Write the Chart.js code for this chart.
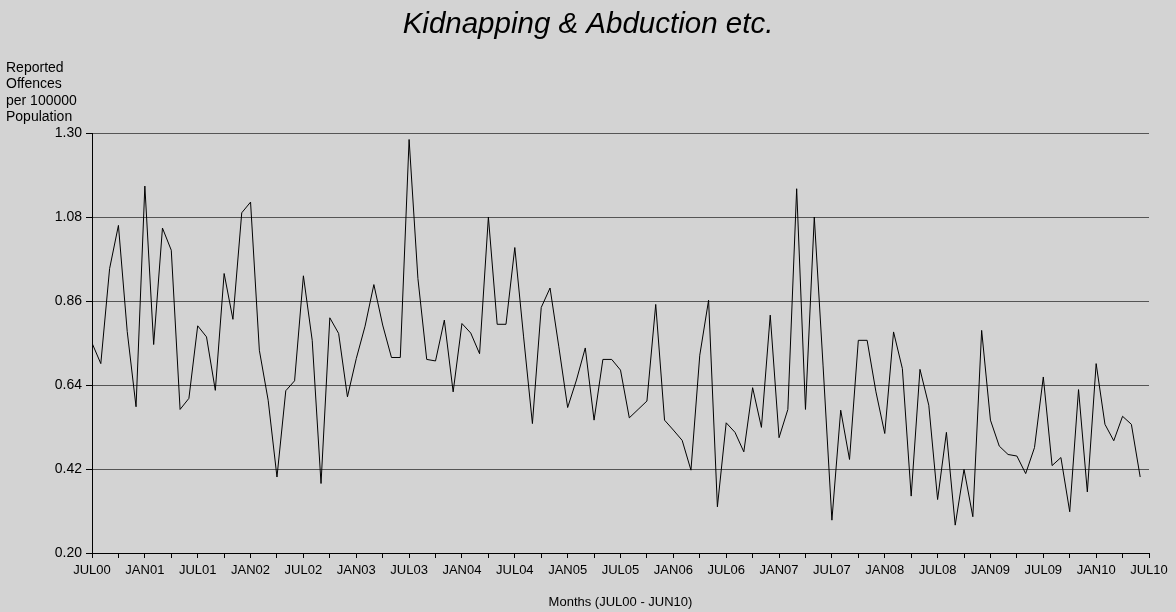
<!DOCTYPE html>
<html>
<head>
<meta charset="utf-8">
<script src="https://cdn.jsdelivr.net/npm/chart.js@4/dist/chart.umd.min.js"></script>
<style>
    html, body { margin: 0; padding: 0; background: #d3d3d3; }
    #wrap { width: 1176px; height: 612px; position: relative; }
</style>
</head>
<body>
<div id="wrap"><canvas id="grafico" width="1176" height="612"></canvas></div>
<script>
// Titulo y etiquetas
const chartTitle = 'Kidnapping & Abduction etc.';
const yTitleLines = ['Reported', 'Offences', 'per 100000', 'Population'];
const xTitle = 'Months (JUL00 - JUN10)';

// Etiquetas del eje X (cada 6 meses)
const tickLabels = ['JUL00', 'JAN01', 'JUL01', 'JAN02', 'JUL02', 'JAN03', 'JUL03', 'JAN04', 'JUL04', 'JAN05',
    'JUL05', 'JAN06', 'JUL06', 'JAN07', 'JUL07', 'JAN08', 'JUL08', 'JAN09', 'JUL09', 'JAN10', 'JUL10'];

// Marcas del eje Y
const yTicks = [0.20, 0.42, 0.64, 0.86, 1.08, 1.30];

// Valores mensuales JUL00 - JUN10
const valores2000 = [0.750, 0.696, 0.945, 1.058, 0.780, 0.583];
const valores2001 = [1.161, 0.746, 1.051, 0.993, 0.576, 0.605, 0.795, 0.766, 0.626, 0.932, 0.812, 1.091];
const valores2002 = [1.119, 0.731, 0.600, 0.399, 0.625, 0.651, 0.926, 0.757, 0.382, 0.816, 0.775, 0.609];
const valores2003 = [0.709, 0.794, 0.903, 0.797, 0.712, 0.712, 1.283, 0.919, 0.707, 0.703, 0.810, 0.622];
const valores2004 = [0.801, 0.776, 0.722, 1.080, 0.799, 0.799, 1.000, 0.766, 0.539, 0.843, 0.894, 0.740];
const valores2005 = [0.581, 0.653, 0.737, 0.548, 0.707, 0.707, 0.679, 0.554, 0.576, 0.598, 0.851, 0.548];
const valores2006 = [0.522, 0.495, 0.417, 0.718, 0.862, 0.321, 0.541, 0.516, 0.465, 0.633, 0.529, 0.823];
const valores2007 = [0.502, 0.576, 1.154, 0.576, 1.080, 0.690, 0.286, 0.574, 0.445, 0.757, 0.757, 0.622];
const valores2008 = [0.513, 0.779, 0.683, 0.349, 0.681, 0.587, 0.340, 0.516, 0.273, 0.419, 0.295, 0.783];
const valores2009 = [0.548, 0.480, 0.458, 0.454, 0.408, 0.476, 0.661, 0.429, 0.450, 0.308, 0.628, 0.360];
const valores2010 = [0.696, 0.537, 0.494, 0.558, 0.537, 0.399];

const valores = [].concat(valores2000, valores2001, valores2002, valores2003, valores2004,
    valores2005, valores2006, valores2007, valores2008, valores2009, valores2010);

const fuente = 'Arial, "Liberation Sans", sans-serif';

// Dibuja fondo, titulo y etiqueta del eje Y
const textosPlugin = {
    id: 'textos',
    beforeDraw(chart) {
        const ctx = chart.ctx;
        ctx.save();
        ctx.fillStyle = '#d3d3d3';
        ctx.fillRect(0, 0, chart.width, chart.height);
        ctx.restore();
    },
    afterDraw(chart) {
        const ctx = chart.ctx;
        ctx.save();
        ctx.fillStyle = '#000';
        ctx.textBaseline = 'middle';
        ctx.textAlign = 'center';
        ctx.font = 'italic 29.5px ' + fuente;
        ctx.fillText(chartTitle, 588, 25);
        ctx.textAlign = 'left';
        ctx.font = '14px ' + fuente;
        yTitleLines.forEach((linea, i) => {
            ctx.fillText(linea, 6, 68 + i * 16.4);
        });
        ctx.restore();
    }
};

const ctx = document.getElementById('grafico').getContext('2d');
const grafico = new Chart(ctx, {
    type: 'line',
    data: {
        datasets: [{
            data: valores.map((v, i) => ({ x: i, y: v })),
            borderColor: '#000',
            borderWidth: 1,
            pointRadius: 0,
            tension: 0,
            fill: false
        }]
    },
    options: {
        responsive: false,
        animation: false,
        events: [],
        layout: { padding: { top: 133, right: 27, left: 0, bottom: 0 } },
        plugins: {
            legend: { display: false },
            title: { display: false },
            tooltip: { enabled: false }
        },
        scales: {
            x: {
                type: 'linear',
                min: 0,
                max: 120,
                afterFit: scale => { scale.height = 59; },
                afterBuildTicks: scale => {
                    const ticks = [];
                    for (let m = 0; m <= 120; m += 3) ticks.push({ value: m });
                    scale.ticks = ticks;
                },
                ticks: {
                    autoSkip: false,
                    maxRotation: 0,
                    padding: 5,
                    color: '#000',
                    font: { family: fuente, size: 13 },
                    callback: v => (v % 6 === 0 ? tickLabels[v / 6] : '')
                },
                grid: {
                    drawOnChartArea: false,
                    tickLength: 5,
                    tickColor: '#000'
                },
                border: { color: '#000', width: 1 },
                title: {
                    display: true,
                    text: xTitle,
                    color: '#000',
                    font: { family: fuente, size: 13 },
                    padding: { top: 0, bottom: 2 }
                }
            },
            y: {
                min: 0.20,
                max: 1.30,
                afterFit: scale => { scale.width = 92; },
                afterBuildTicks: scale => {
                    scale.ticks = yTicks.map(v => ({ value: v }));
                },
                ticks: {
                    padding: 4,
                    color: '#000',
                    font: { family: fuente, size: 14 },
                    callback: v => v.toFixed(2)
                },
                grid: {
                    color: '#555',
                    lineWidth: 1,
                    tickLength: 6,
                    tickColor: '#000'
                },
                border: { color: '#000', width: 1 }
            }
        }
    },
    plugins: [textosPlugin]
});
</script>
</body>
</html>
